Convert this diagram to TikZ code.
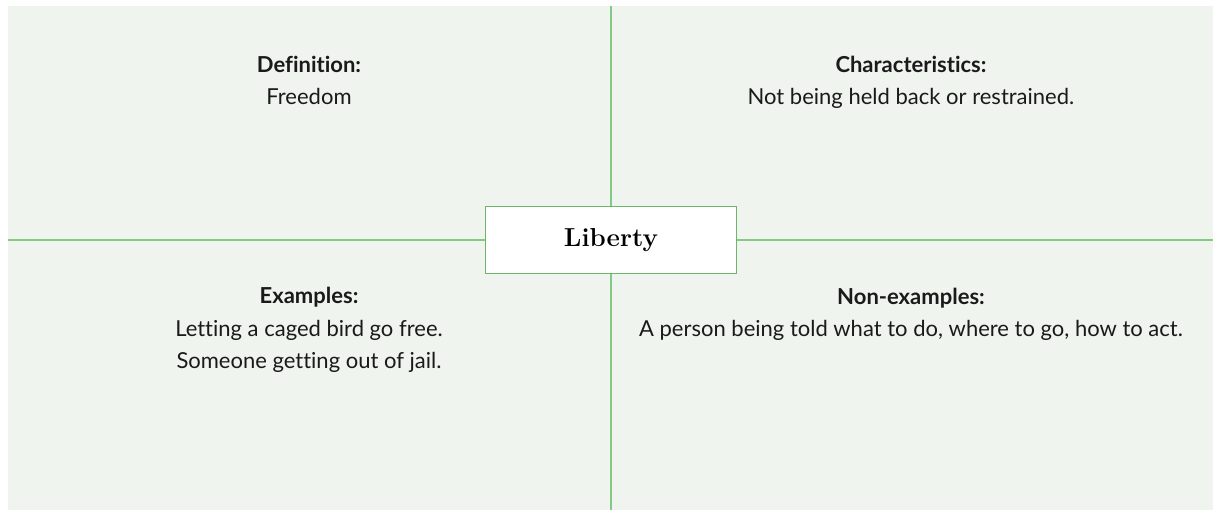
\documentclass[tikz,border=0pt]{standalone}
\usepackage{fontspec}
\setsansfont[Ligatures=NoCommon]{Lato}
\definecolor{bgc}{HTML}{EFF4EE}
\definecolor{linec}{HTML}{86C984}
\definecolor{boxc}{HTML}{6DB56B}
\definecolor{txt}{HTML}{1A1A1A}
\begin{document}
\begin{tikzpicture}[x=1pt,y=-1pt,
  quad/.style={align=center,font=\sffamily\fontsize{22}{32.5}\selectfont,text=txt,anchor=base},
  center/.style={draw=boxc,line width=1.3pt,fill=white,minimum width=251pt,minimum height=67pt,font=\bfseries\fontsize{26}{28}\selectfont,inner sep=0pt}]
\useasboundingbox (0,0) rectangle (1218,510);
\fill[bgc] (8,6) rectangle (1213,510);
\coordinate (top) at (611,6);
\coordinate (bot) at (611,510);
\coordinate (lft) at (8,240);
\coordinate (rgt) at (1213,240);
\draw[linec,line width=1.3pt] (top) -- (bot);
\draw[linec,line width=1.3pt] (lft) -- (rgt);
\node[center] (liberty) at (611,240) {Liberty};
\node[quad] (def) at (309,105) {\textbf{Definition:}\\Freedom};
\node[quad] (char) at (911,105) {\textbf{Characteristics:}\\Not being held back or restrained.};
\node[quad] (ex) at (309,369) {\textbf{Examples:}\\Letting a caged bird go free.\\Someone getting out of jail.};
\node[quad] (nonex) at (911,337) {\textbf{Non-examples:}\\A person being told what to do, where to go, how to act.};
\end{tikzpicture}
\end{document}
